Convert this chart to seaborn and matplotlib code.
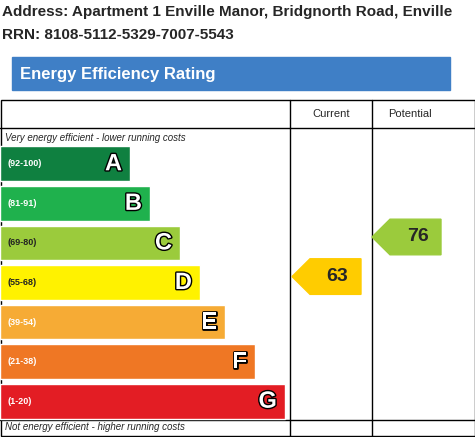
import matplotlib
matplotlib.use("Agg")
import matplotlib.pyplot as plt
import seaborn as sns
import pandas as pd
from matplotlib.patches import Polygon, Rectangle
import matplotlib.patheffects as pe

bands = ["A", "B", "C", "D", "E", "F", "G"]
ranges = ["(92-100)", "(81-91)", "(69-80)", "(55-68)", "(39-54)", "(21-38)", "(1-20)"]
lengths = [130, 150, 180, 200, 225, 255, 285]
colors = ["#0f8040", "#1fb14d", "#9bcb3c", "#fff200", "#f6ab35", "#ef7724", "#e31d24"]
range_colors = ["white", "white", "#222222", "#222222", "white", "white", "white"]
current = 63
potential = 76
address = "Address: Apartment 1 Enville Manor, Bridgnorth Road, Enville"
rrn = "RRN: 8108-5112-5329-7007-5543"
lo = [92, 81, 69, 55, 39, 21, 1]

def band_of(v):
    for i, l in enumerate(lo):
        if v >= l:
            return i
    return 6

sns.set_theme(style="white")
plt.rcParams["font.family"] = ["Liberation Sans", "DejaVu Sans"]
W, H = 475, 437
fig = plt.figure(figsize=(W / 100, H / 100), dpi=100)
bg = fig.add_axes([0, 0, 1, 1])
bg.set_xlim(0, W); bg.set_ylim(H, 0); bg.axis("off")

bg.text(2, 12, address, fontsize=11, fontweight="bold", va="center", ha="left")
bg.text(2, 35, rrn, fontsize=11, fontweight="bold", va="center", ha="left")
bg.add_patch(Rectangle((12, 57), 438, 33, color="#3f7fc6"))
bg.text(20, 74, "Energy Efficiency Rating", color="white", fontsize=12, fontweight="bold", va="center")
bg.add_patch(Rectangle((0.5, 100), 474, 336, fill=False, lw=1, ec="black"))
bg.plot([0, 475], [128, 128], color="black", lw=1)
bg.plot([0, 475], [420, 420], color="black", lw=1)
for x in (290, 372):
    bg.plot([x, x], [100, 436], color="black", lw=1)
bg.text(331, 114, "Current", fontsize=8, ha="center", va="center")
bg.text(410, 114, "Potential", fontsize=8, ha="center", va="center")
bg.text(5, 138, "Very energy efficient - lower running costs", fontsize=7, style="italic", va="center")
bg.text(5, 427, "Not energy efficient - higher running costs", fontsize=7, style="italic", va="center")

top, bot = 144, 421
ax = fig.add_axes([0, 1 - bot / H, 1, (bot - top) / H])
df = pd.DataFrame({"band": bands, "len": lengths})
sns.barplot(data=df, x="len", y="band", hue="band", palette=colors, legend=False,
            width=0.88, saturation=1, ax=ax)
ax.set_xlim(0, W); ax.axis("off")
stroke = [pe.withStroke(linewidth=2, foreground="black")]
for i, (b, r, L) in enumerate(zip(bands, ranges, lengths)):
    ax.text(8, i, r, fontsize=6.5, fontweight="bold", color=range_colors[i], va="center")
    ax.text(L - 8, i, b, fontsize=17, fontweight="bold", color="white", va="center",
            ha="right", path_effects=stroke)

def arrow(x0, x1, v):
    i = band_of(v) - 0.15
    h = 0.45
    pts = [(x0, i), (x0 + 18, i - h), (x1, i - h), (x1, i + h), (x0 + 18, i + h)]
    c = colors[band_of(v)] if band_of(v) != 3 else "#ffcc00"
    ax.add_patch(Polygon(pts, closed=True, color=c))
    ax.text((x0 + 18 + x1) / 2 + 2, i, str(v), fontsize=14, fontweight="bold", ha="center", va="center")

arrow(292, 361, current)
arrow(372, 441, potential)
fig.savefig("out.png", dpi=100)
